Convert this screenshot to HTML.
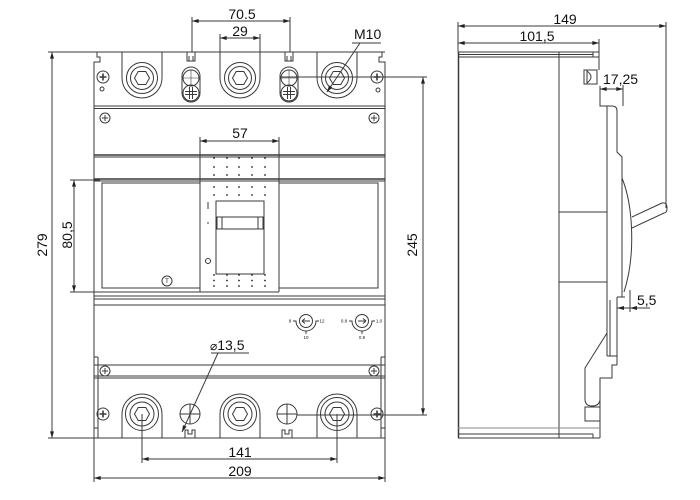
<!DOCTYPE html>
<html><head><meta charset="utf-8"><style>
html,body{margin:0;padding:0;background:#fff;}
svg{display:block;}
text{font-family:"Liberation Sans",Arial,sans-serif;fill:#111;}
</style></head><body>
<svg width="700" height="500" viewBox="0 0 700 500" xmlns="http://www.w3.org/2000/svg">
<defs>
<marker id="a" viewBox="0 0 8 6" refX="8" refY="3" markerWidth="7" markerHeight="5" markerUnits="userSpaceOnUse" orient="auto-start-reverse"><path d="M0,0.6 L8,3 L0,5.4 z" fill="#222"/></marker>
</defs>
<rect width="700" height="500" fill="#fff"/>
<g fill="none" stroke="#3a3a3a" stroke-width="1">
<!-- ===== FRONT VIEW ===== -->
<path d="M97,52 V57 H100 V62 H94 V438"/>
<path d="M382,52 V57 H379 V62 H385 V438"/>
<line x1="48" y1="52" x2="385" y2="52"/>
<line x1="48" y1="438" x2="385" y2="438"/>
<line x1="98" y1="357" x2="98" y2="438"/>
<line x1="381" y1="357" x2="381" y2="438"/>
<path d="M94,357 H98 M381,357 H385 M94,428 H98 M381,428 H385"/>
<line x1="94" y1="106" x2="385" y2="106"/>
<line x1="94" y1="108.5" x2="385" y2="108.5"/>
<line x1="94" y1="155" x2="385" y2="155" stroke-width="1.4"/>
<line x1="94" y1="157" x2="385" y2="157"/>
<line x1="94" y1="179" x2="385" y2="179" stroke-width="1.4"/>
<line x1="94" y1="181" x2="385" y2="181"/>
<line x1="94" y1="296" x2="385" y2="296"/>
<line x1="94" y1="299" x2="385" y2="299"/>
<line x1="94" y1="305" x2="385" y2="305"/>
<line x1="94" y1="365" x2="385" y2="365"/>
<line x1="94" y1="376" x2="385" y2="376"/>
<line x1="94" y1="378" x2="385" y2="378"/>
<g>
<path d="M122,52 V78 A20,20 0 0 0 162,78 V52"/>
<circle cx="142" cy="78" r="15.5"/>
<circle cx="142" cy="78" r="11.5"/>
<path d="M134.5,78 L138.2,71.5 H145.8 L149.5,78 L145.8,84.5 H138.2 Z"/>
</g>
<g transform="translate(98,0)">
<path d="M122,52 V78 A20,20 0 0 0 162,78 V52"/>
<circle cx="142" cy="78" r="15.5"/>
<circle cx="142" cy="78" r="11.5"/>
<path d="M134.5,78 L138.2,71.5 H145.8 L149.5,78 L145.8,84.5 H138.2 Z"/>
</g>
<g transform="translate(195,0)">
<path d="M122,52 V78 A20,20 0 0 0 162,78 V52"/>
<circle cx="142" cy="78" r="15.5"/>
<circle cx="142" cy="78" r="11.5"/>
<path d="M134.5,78 L138.2,71.5 H145.8 L149.5,78 L145.8,84.5 H138.2 Z"/>
</g>
<g>
<path d="M187,52 V61 H195 V52 M189,56 V61 M193,56 V61"/>
<rect x="182" y="67" width="18" height="35" rx="9"/>
<circle cx="191" cy="78" r="8"/>
<path d="M183,78 H199 M191,70 V86" stroke-width="0.6"/>
<circle cx="191" cy="93" r="8"/>
<path d="M189.5,87 V99 M192.5,87 V99 M185,91.5 H197 M185,94.5 H197"/>
</g>
<g transform="translate(98,0)">
<path d="M187,52 V61 H195 V52 M189,56 V61 M193,56 V61"/>
<rect x="182" y="67" width="18" height="35" rx="9"/>
<circle cx="191" cy="78" r="8"/>
<path d="M183,78 H199 M191,70 V86" stroke-width="0.6"/>
<circle cx="191" cy="93" r="8"/>
<path d="M189.5,87 V99 M192.5,87 V99 M185,91.5 H197 M185,94.5 H197"/>
</g>
<circle cx="103" cy="77" r="6"/><path d="M103,73.5 V80.5 M99.5,77 H106.5" stroke-width="1.6"/>
<circle cx="102" cy="89" r="2"/>
<circle cx="377" cy="77" r="6"/><path d="M377,73.5 V80.5 M373.5,77 H380.5" stroke-width="1.6"/>
<circle cx="378" cy="90" r="2"/>
<circle cx="105" cy="118" r="5"/><path d="M105,115 V121 M102,118 H108"/>
<circle cx="374" cy="118" r="5"/><path d="M374,115 V121 M371,118 H377"/>
<line x1="200" y1="137" x2="200" y2="292"/>
<line x1="279" y1="137" x2="279" y2="292"/>
<line x1="70" y1="292" x2="279" y2="292"/>
<rect x="102" y="183" width="98" height="105"/>
<rect x="279" y="183" width="99" height="105"/>
<rect x="216" y="201" width="48" height="73"/>
<rect x="217" y="217" width="46" height="12"/>
<path d="M222,217 V229 M258,217 V229"/>
<path d="M208,202 V209"/>
<path d="M207,223 H209"/>
<circle cx="208" cy="261" r="2.5"/>
<circle cx="167" cy="281" r="5"/>
<g>
<circle cx="306" cy="321" r="6.5"/>
<path d="M302,321 H310 M302,321 L305,318.5 M302,321 L305,323.5"/>
<path d="M293,321 H296 A10,10 0 0 0 316,321 H319 M306,331 V334"/>
</g>
<g>
<circle cx="362" cy="321" r="6.5"/>
<path d="M358,321 H366 M366,321 L363,318.5 M366,321 L363,323.5"/>
<path d="M349,321 H352 A10,10 0 0 0 372,321 H375 M362,331 V334"/>
</g>
<circle cx="105" cy="371" r="5"/><path d="M105,368 V374 M102,371 H108"/>
<circle cx="374" cy="371" r="5"/><path d="M374,368 V374 M371,371 H377"/>
<circle cx="103" cy="414" r="6"/><path d="M103,410.5 V417.5 M99.5,414 H106.5" stroke-width="1.6"/>
<circle cx="377" cy="414" r="6"/><path d="M377,410.5 V417.5 M373.5,414 H380.5" stroke-width="1.6"/>
<g>
<path d="M122,438 V414 A20,20 0 0 1 162,414 V438"/>
<circle cx="142" cy="414" r="16.5"/>
<circle cx="142" cy="414" r="12"/>
<path d="M134.5,414 L138.2,407.5 H145.8 L149.5,414 L145.8,420.5 H138.2 Z"/>
</g>
<g transform="translate(98,0)">
<path d="M122,438 V414 A20,20 0 0 1 162,414 V438"/>
<circle cx="142" cy="414" r="16.5"/>
<circle cx="142" cy="414" r="12"/>
<path d="M134.5,414 L138.2,407.5 H145.8 L149.5,414 L145.8,420.5 H138.2 Z"/>
</g>
<g transform="translate(195,0)">
<path d="M122,438 V414 A20,20 0 0 1 162,414 V438"/>
<circle cx="142" cy="414" r="16.5"/>
<circle cx="142" cy="414" r="12"/>
<path d="M134.5,414 L138.2,407.5 H145.8 L149.5,414 L145.8,420.5 H138.2 Z"/>
</g>
<circle cx="190" cy="414" r="10"/><path d="M180,414 H200 M190,404 V424"/>
<path d="M185,438 V430 H188 V434 H192 V430 H195 V438"/>
<circle cx="287" cy="414" r="10"/><path d="M277,414 H297 M287,404 V424"/>
<path d="M282,438 V430 H285 V434 H289 V430 H292 V438"/>
<line x1="52" y1="52" x2="52" y2="438" marker-start="url(#a)" marker-end="url(#a)"/>
<line x1="74" y1="180" x2="74" y2="292" marker-start="url(#a)" marker-end="url(#a)"/>
<line x1="70" y1="180" x2="100" y2="180"/>
<line x1="192" y1="21" x2="290" y2="21" marker-start="url(#a)" marker-end="url(#a)"/>
<line x1="192" y1="17" x2="192" y2="52"/>
<line x1="290" y1="17" x2="290" y2="52"/>
<line x1="220" y1="38" x2="260" y2="38" marker-start="url(#a)" marker-end="url(#a)"/>
<line x1="220" y1="34" x2="220" y2="52"/>
<line x1="260" y1="34" x2="260" y2="52"/>
<line x1="200" y1="141" x2="279" y2="141" marker-start="url(#a)" marker-end="url(#a)"/>
<line x1="423" y1="77" x2="423" y2="415" marker-start="url(#a)" marker-end="url(#a)"/>
<line x1="280" y1="77" x2="427" y2="77"/>
<line x1="297" y1="415" x2="427" y2="415"/>
<line x1="142" y1="459" x2="337" y2="459" marker-start="url(#a)" marker-end="url(#a)"/>
<line x1="142" y1="414" x2="142" y2="463"/>
<line x1="337" y1="414" x2="337" y2="463"/>
<line x1="94" y1="478" x2="385" y2="478" marker-start="url(#a)" marker-end="url(#a)"/>
<line x1="94" y1="438" x2="94" y2="482"/>
<line x1="385" y1="438" x2="385" y2="482"/>
<line x1="352" y1="43" x2="381" y2="43"/>
<line x1="360" y1="43" x2="327" y2="92" marker-end="url(#a)"/>
<line x1="211" y1="353" x2="249" y2="353"/>
<line x1="218" y1="353" x2="182" y2="432" marker-end="url(#a)"/>
<!-- ===== SIDE VIEW ===== -->
<line x1="458.5" y1="52" x2="458.5" y2="438" stroke-width="1.5"/>
<line x1="458" y1="52" x2="599" y2="52"/>
<line x1="458" y1="54.5" x2="593" y2="54.5"/>
<line x1="458" y1="57" x2="599" y2="57"/>
<line x1="593" y1="52" x2="593" y2="57"/>
<line x1="559" y1="52" x2="559" y2="438"/>
<line x1="599" y1="39" x2="599" y2="70"/>
<rect x="584" y="70" width="13" height="14"/>
<path d="M587,70 V84 M587,71 Q595,77 587,83"/>
<path d="M600,86 V106 H612 Q617,106 617,111 V152 L622,157 V297"/>
<path d="M622,178 C633,205 636,255 624,292"/>
<path d="M617,297 H625"/>
<line x1="607" y1="106" x2="607" y2="356"/>
<line x1="610" y1="300" x2="610" y2="356"/>
<line x1="617" y1="297" x2="617" y2="365"/>
<line x1="607" y1="356" x2="617" y2="356"/>
<path d="M617,365 H612 V378 H600 V400 Q599,406 592,406 Q585,406 585,399 V368 L607,333"/>
<rect x="585" y="407" width="15" height="14"/>
<line x1="600" y1="378" x2="600" y2="438"/>
<line x1="458" y1="428" x2="600" y2="428" stroke="#888"/>
<line x1="458" y1="434" x2="593" y2="434"/>
<line x1="593" y1="434" x2="593" y2="438"/>
<line x1="458" y1="438" x2="600" y2="438"/>
<line x1="559" y1="212" x2="607" y2="212"/>
<line x1="559" y1="282" x2="607" y2="282"/>
<path d="M632,217 L662,203 Q667,202 667,208 Q667,213 664,213 L632,228"/>
<line x1="458" y1="26" x2="666" y2="26" marker-start="url(#a)" marker-end="url(#a)"/>
<line x1="458" y1="22" x2="458" y2="52"/>
<line x1="666" y1="22" x2="666" y2="208"/>
<line x1="458" y1="43" x2="599" y2="43" marker-start="url(#a)" marker-end="url(#a)"/>
<line x1="600" y1="89" x2="623" y2="89" marker-start="url(#a)" marker-end="url(#a)"/>
<line x1="623" y1="85" x2="623" y2="106"/>
<line x1="630" y1="290" x2="630" y2="312"/>
<line x1="617" y1="308" x2="650" y2="308"/>
<path d="M617,308 L624,306 L624,310 Z M630,308 L637,306 L637,310 Z" fill="#222" stroke="none"/>
</g>
<g fill="#222">
<circle cx="214" cy="158" r="0.9"/><circle cx="227" cy="158" r="0.9"/><circle cx="239" cy="158" r="0.9"/><circle cx="252" cy="158" r="0.9"/><circle cx="265" cy="158" r="0.9"/>
<circle cx="214" cy="167" r="0.9"/><circle cx="227" cy="167" r="0.9"/><circle cx="239" cy="167" r="0.9"/><circle cx="252" cy="167" r="0.9"/><circle cx="265" cy="167" r="0.9"/>
<circle cx="214" cy="175" r="0.9"/><circle cx="227" cy="175" r="0.9"/><circle cx="239" cy="175" r="0.9"/><circle cx="252" cy="175" r="0.9"/><circle cx="265" cy="175" r="0.9"/>
<circle cx="214" cy="187" r="0.9"/><circle cx="227" cy="187" r="0.9"/><circle cx="239" cy="187" r="0.9"/><circle cx="252" cy="187" r="0.9"/><circle cx="265" cy="187" r="0.9"/>
<circle cx="214" cy="195" r="0.9"/><circle cx="227" cy="195" r="0.9"/><circle cx="239" cy="195" r="0.9"/><circle cx="252" cy="195" r="0.9"/><circle cx="265" cy="195" r="0.9"/>
<circle cx="214" cy="275" r="0.9"/><circle cx="227" cy="275" r="0.9"/><circle cx="239" cy="275" r="0.9"/><circle cx="252" cy="275" r="0.9"/><circle cx="265" cy="275" r="0.9"/>
<circle cx="214" cy="280.5" r="0.9"/><circle cx="227" cy="280.5" r="0.9"/><circle cx="239" cy="280.5" r="0.9"/><circle cx="252" cy="280.5" r="0.9"/><circle cx="265" cy="280.5" r="0.9"/>
<circle cx="214" cy="286" r="0.9"/><circle cx="227" cy="286" r="0.9"/><circle cx="239" cy="286" r="0.9"/><circle cx="252" cy="286" r="0.9"/><circle cx="265" cy="286" r="0.9"/>
</g>
<g font-size="14">
<text x="242" y="19" text-anchor="middle">70.5</text>
<text x="240" y="36" text-anchor="middle">29</text>
<text x="354" y="39">M10</text>
<text x="240" y="138" text-anchor="middle">57</text>
<text transform="translate(47,245) rotate(-90)" text-anchor="middle">279</text>
<text transform="translate(72,235) rotate(-90)" text-anchor="middle">80,5</text>
<text transform="translate(417,245) rotate(-90)" text-anchor="middle">245</text>
<text x="210" y="350"><tspan font-family="DejaVu Sans, sans-serif" font-size="12">⌀</tspan>13,5</text>
<text x="240" y="457" text-anchor="middle">141</text>
<text x="240" y="476" text-anchor="middle">209</text>
<text x="565" y="24" text-anchor="middle">149</text>
<text x="537" y="41" text-anchor="middle">101,5</text>
<text x="603" y="84">17,25</text>
<text x="637" y="305">5,5</text>
</g>
<g font-size="4.5" text-anchor="middle">
<text x="290" y="322.5">8</text>
<text x="322" y="322.5">12</text>
<text x="306" y="339">10</text>
<text x="344" y="322.5">0.8</text>
<text x="379" y="322.5">1.0</text>
<text x="362" y="339">0.9</text>
<text x="167" y="283" font-size="6">T</text>
</g>
</svg>
</body></html>
